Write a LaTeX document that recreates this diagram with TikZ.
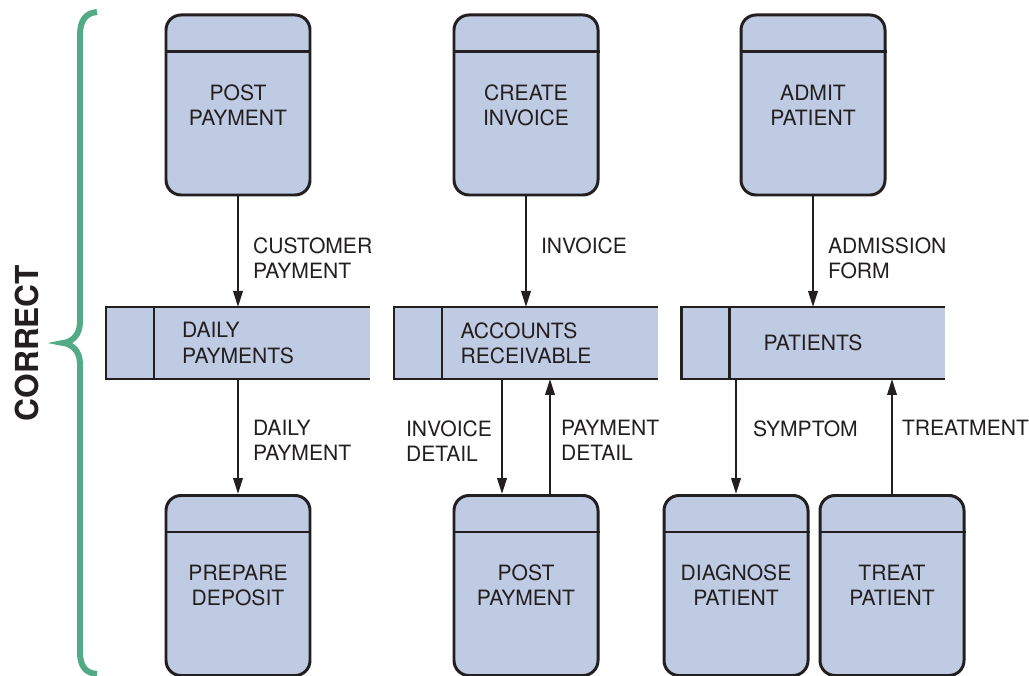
\documentclass[tikz,border=0pt]{standalone}
\usepackage{fontspec}
\setmainfont{TeX Gyre Heros}
\usepackage{tikz}
\definecolor{boxfill}{RGB}{191, 203, 226}
\definecolor{inkgray}{RGB}{35, 31, 32}
\definecolor{bracegreen}{RGB}{82, 170, 135}
\usetikzlibrary{arrows.meta, positioning}
\newcommand{\boxfont}{\fontsize{12}{14.3}\selectfont}

\begin{document}
\begin{tikzpicture}[
    procbox/.style={draw=inkgray, line width=1.7pt, rounded corners=0.3cm, fill=boxfill,
                 minimum width=2.88cm, minimum height=3.6cm, align=center, text=inkgray, font=\boxfont},
    storebox/.style={fill=boxfill, minimum width=5.28cm, minimum height=1.44cm, inner sep=0pt,
                 outer sep=0pt, align=left, text=inkgray, font=\boxfont},
    storeline/.style={draw=inkgray, line width=1.7pt},
    flow/.style={-{Triangle[length=0.32cm, width=0.19cm]}, line width=1.2pt, inkgray},
    flowlabel/.style={inner sep=0pt, anchor=north west, xshift=#1, align=left, text=inkgray, font=\boxfont},
    flowlabel/.default=0.28cm
]
    \useasboundingbox (0,0) rectangle (20.58,-13.52);

    % Brace and side title
    \draw[bracegreen, line width=3.4pt] (1.94,-0.24) .. controls (1.72,-0.26) and (1.60,-0.40) .. (1.60,-0.70)
        -- (1.60,-6.44) .. controls (1.60,-6.70) and (1.44,-6.84) .. (1.26,-6.86)
        .. controls (1.44,-6.88) and (1.60,-7.02) .. (1.60,-7.28)
        -- (1.60,-13.04) .. controls (1.60,-13.34) and (1.72,-13.46) .. (1.94,-13.48);
    \node[rotate=90, text=inkgray, font=\fontsize{18}{20}\selectfont\bfseries] (title) at (0.54,-6.86) {CORRECT};

    % Processes
    \node[procbox] (p1) at (4.76,-2.10) {POST\\PAYMENT};
    \node[procbox] (p2) at (10.52,-2.10) {CREATE\\INVOICE};
    \node[procbox] (p3) at (16.26,-2.10) {ADMIT\\PATIENT};

    \node[procbox] (b1) at (4.76,-11.71) {PREPARE\\DEPOSIT};
    \node[procbox] (b2) at (10.52,-11.71) {POST\\PAYMENT};
    \node[procbox] (b3) at (14.72,-11.71) {DIAGNOSE\\PATIENT};
    \node[procbox] (b4) at (17.84,-11.71) {TREAT\\PATIENT};

    \draw[storeline] ([yshift=-0.76cm]p1.north west) -- ([yshift=-0.76cm]p1.north east);
    \draw[storeline] ([yshift=-0.76cm]p2.north west) -- ([yshift=-0.76cm]p2.north east);
    \draw[storeline] ([yshift=-0.76cm]p3.north west) -- ([yshift=-0.76cm]p3.north east);
    \draw[storeline] ([yshift=-0.76cm]b1.north west) -- ([yshift=-0.76cm]b1.north east);
    \draw[storeline] ([yshift=-0.76cm]b2.north west) -- ([yshift=-0.76cm]b2.north east);
    \draw[storeline] ([yshift=-0.76cm]b3.north west) -- ([yshift=-0.76cm]b3.north east);
    \draw[storeline] ([yshift=-0.76cm]b4.north west) -- ([yshift=-0.76cm]b4.north east);

    % Data stores
    \node[storebox] (ds1) at (4.76,-6.86) {DAILY\\PAYMENTS};
    \node[storebox] (ds2) at (10.52,-6.86) {ACCOUNTS\\RECEIVABLE};
    \node[storebox] (ds3) at (16.26,-6.86) {PATIENTS};

    \draw[storeline] (ds1.north east) -- (ds1.north west) -- (ds1.south west) -- (ds1.south east);
    \draw[storeline] (ds2.north east) -- (ds2.north west) -- (ds2.south west) -- (ds2.south east);
    \draw[storeline] (ds3.north east) -- (ds3.north west) -- (ds3.south west) -- (ds3.south east);
    \draw[storeline] ([xshift=0.96cm]ds1.north west) -- ([xshift=0.96cm]ds1.south west);
    \draw[storeline] ([xshift=0.96cm]ds2.north west) -- ([xshift=0.96cm]ds2.south west);
    \draw[storeline] ([xshift=0.96cm]ds3.north west) -- ([xshift=0.96cm]ds3.south west);

    % Data flows
    \draw[flow] (p1) -- (ds1) node[pos=0.36, flowlabel] {CUSTOMER\\PAYMENT};
    \draw[flow] (p2) -- (ds2) node[pos=0.36, flowlabel] {INVOICE};
    \draw[flow] (p3) -- (ds3) node[pos=0.36, flowlabel] {ADMISSION\\FORM};

    \draw[flow] (ds1) -- (b1) node[pos=0.35, flowlabel] {DAILY\\PAYMENT};
    \draw[flow] ([xshift=-0.48cm]ds2.south) -- ([xshift=-0.48cm]b2.north)
        node[pos=0.35, flowlabel=-0.18cm, anchor=north east] {INVOICE\\DETAIL};
    \draw[flow] ([xshift=0.48cm]b2.north) -- ([xshift=0.48cm]ds2.south)
        node[pos=0.65, flowlabel=0.2cm] {PAYMENT\\DETAIL};
    \draw[flow] (ds3.south -| b3.north) -- (b3.north) node[pos=0.35, flowlabel=0.32cm] {SYMPTOM};
    \draw[flow] (b4.north) -- (ds3.south -| b4.north) node[pos=0.65, flowlabel=0.18cm] {TREATMENT};
\end{tikzpicture}
\end{document}
